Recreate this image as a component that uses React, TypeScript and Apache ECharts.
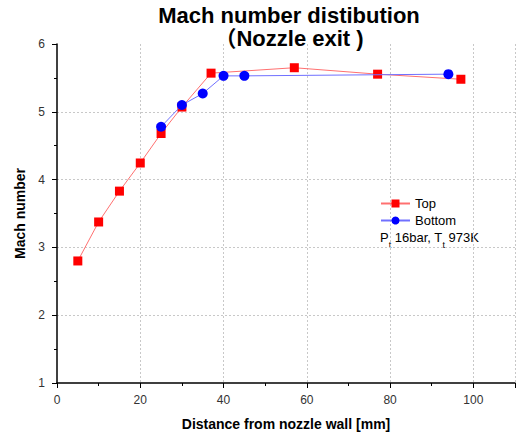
import React, { useEffect, useRef } from "react";
import * as echarts from "echarts";

// Distance from nozzle wall [mm] and measured Mach number
const topX = [5, 10, 15, 20, 25, 30, 37, 57, 77, 97];
const topMach = [2.8, 3.375, 3.83, 4.245, 4.68, 5.07, 5.57, 5.65, 5.555, 5.48];
const bottomX = [25, 30, 35, 40, 45, 94];
const bottomMach = [4.78, 5.1, 5.27, 5.53, 5.53, 5.555];

const seriesNames = ["Top", "Bottom"];
const titleLines = ["Mach number distibution", "（Nozzle exit )"];

const FONT = '"Liberation Sans", Arial, "Noto Sans CJK SC", sans-serif';

export default function App() {
  const ref = useRef<HTMLDivElement>(null);

  useEffect(() => {
    if (!ref.current) return;
    const chart = echarts.init(ref.current, undefined, { renderer: "svg" });
    const zip = (xs: number[], ys: number[]) => xs.map((x, i) => [x, ys[i]]);

    // one legend block per series so each row sits at a fixed height
    const legendRow = (name: string, top: number) => ({
      orient: "horizontal",
      left: 380,
      top,
      padding: 0,
      itemWidth: 29,
      itemHeight: 10,
      textStyle: { fontFamily: FONT, fontSize: 13, color: "#000" },
      data: [name],
    });

    chart.setOption({
      animation: false,
      backgroundColor: "#ffffff",
      title: {
        text: titleLines.join("\n"),
        left: 289,
        top: 4,
        padding: 0,
        textAlign: "center",
        textStyle: {
          fontFamily: FONT,
          fontSize: 22,
          fontWeight: "bold",
          color: "#000",
          lineHeight: 23,
        },
      },
      grid: { left: 57, right: 2, top: 44, bottom: 53 },
      legend: [legendRow(seriesNames[0], 197), legendRow(seriesNames[1], 214)],
      graphic: [
        {
          type: "text",
          left: 380,
          top: 231,
          style: {
            text: "{a|P}{s|t}{a| 16bar, T}{s|t}{a| 973K}",
            rich: {
              a: { fontFamily: FONT, fontSize: 13, fill: "#000", verticalAlign: "top", lineHeight: 16 },
              s: {
                fontFamily: FONT,
                fontSize: 9,
                fill: "#000",
                verticalAlign: "top",
                lineHeight: 16,
                padding: [9, 0, 0, 0],
              },
            },
          },
        },
      ],
      xAxis: {
        type: "value",
        min: 0,
        max: 110,
        interval: 20,
        name: "Distance from nozzle wall [mm]",
        nameLocation: "middle",
        nameGap: 34,
        nameTextStyle: { fontFamily: FONT, fontSize: 14, fontWeight: "bold", color: "#000" },
        axisLine: { show: true, onZero: false, lineStyle: { color: "#000", width: 1.5 } },
        axisTick: { show: true, length: 5, lineStyle: { color: "#000", width: 1 } },
        minorTick: { show: true, splitNumber: 2, length: 3, lineStyle: { color: "#000", width: 1 } },
        axisLabel: { showMaxLabel: false, fontFamily: FONT, fontSize: 12, color: "#333", margin: 11 },
        splitLine: {
          show: true,
          showMinLine: false,
          lineStyle: { color: "#c8c8c8", type: [2, 2], width: 1 },
        },
      },
      yAxis: {
        type: "value",
        min: 1,
        max: 6,
        interval: 1,
        name: "Mach number",
        nameLocation: "middle",
        nameGap: 27,
        nameTextStyle: { fontFamily: FONT, fontSize: 14, fontWeight: "bold", color: "#000" },
        axisLine: { show: true, onZero: false, lineStyle: { color: "#000", width: 1.5 } },
        axisTick: { show: true, length: 5, lineStyle: { color: "#000", width: 1 } },
        minorTick: { show: true, splitNumber: 2, length: 3, lineStyle: { color: "#000", width: 1 } },
        axisLabel: { fontFamily: FONT, fontSize: 12, color: "#333", margin: 12 },
        splitLine: {
          show: true,
          showMinLine: false,
          showMaxLine: false,
          lineStyle: { color: "#c8c8c8", type: [2, 2], width: 1 },
        },
      },
      series: [
        {
          name: seriesNames[0],
          type: "line",
          data: zip(topX, topMach),
          symbol: "rect",
          symbolSize: 9,
          itemStyle: { color: "#ff0000" },
          lineStyle: { color: "#ff7070", width: 1 },
          z: 2,
        },
        {
          name: seriesNames[1],
          type: "line",
          data: zip(bottomX, bottomMach),
          symbol: "circle",
          symbolSize: 10,
          itemStyle: { color: "#0000ff" },
          lineStyle: { color: "#7070ff", width: 1 },
          z: 3,
        },
      ],
    });

    return () => chart.dispose();
  }, []);

  return (
    <div
      ref={ref}
      style={{ position: "absolute", left: 0, top: 0, width: 517, height: 436 }}
    />
  );
}
